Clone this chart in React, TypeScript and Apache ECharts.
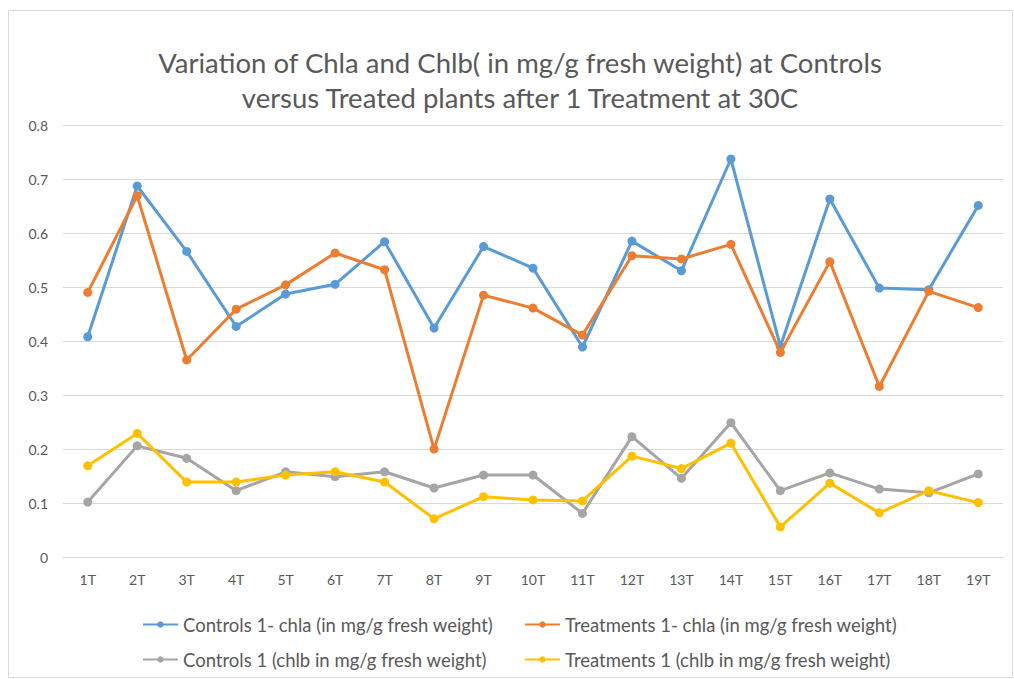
import React, { useEffect, useRef } from "react";
import * as echarts from "echarts";

const categories = ["1T","2T","3T","4T","5T","6T","7T","8T","9T","10T","11T","12T","13T","14T","15T","16T","17T","18T","19T"];
const controlsChla = [0.409,0.688,0.567,0.428,0.488,0.506,0.585,0.425,0.576,0.536,0.390,0.586,0.531,0.738,0.391,0.664,0.499,0.496,0.652];
const treatmentsChla = [0.491,0.670,0.366,0.460,0.505,0.564,0.533,0.201,0.486,0.462,0.412,0.559,0.553,0.580,0.380,0.548,0.317,0.493,0.463];
const controlsChlb = [0.103,0.207,0.184,0.124,0.159,0.150,0.159,0.129,0.153,0.153,0.082,0.224,0.147,0.250,0.124,0.157,0.127,0.120,0.155];
const treatmentsChlb = [0.170,0.230,0.140,0.140,0.153,0.159,0.140,0.072,0.113,0.107,0.105,0.188,0.165,0.212,0.057,0.138,0.083,0.124,0.102];
const seriesNames = [
  "Controls 1- chla (in mg/g fresh weight)",
  "Treatments 1- chla (in mg/g fresh weight)",
  "Controls 1 (chlb in mg/g fresh weight)",
  "Treatments 1 (chlb in mg/g fresh weight)",
];
const colors = ["#5B9BD5", "#ED7D31", "#A5A5A5", "#FFC000"];
const titleLines = [
  "Variation of Chla and Chlb( in mg/g fresh weight) at Controls",
  "versus Treated plants after 1 Treatment at 30C",
];

const FONT = "Lato, 'Liberation Sans', sans-serif";
const TXT = "#595959";

export default function App() {
  const ref = useRef<HTMLDivElement>(null);
  useEffect(() => {
    if (!ref.current) return;
    const chart = echarts.init(ref.current, undefined, { renderer: "svg" });
    const dataSets = [controlsChla, treatmentsChla, controlsChlb, treatmentsChlb];
    const legendPos = [
      { left: 142, top: 615 },
      { left: 524, top: 615 },
      { left: 142, top: 650 },
      { left: 524, top: 650 },
    ];
    chart.setOption({
      animation: false,
      backgroundColor: "#ffffff",
      textStyle: { fontFamily: FONT },
      graphic: [
        { type: "rect", shape: { x: 8.5, y: 10.5, width: 1004, height: 667 }, style: { fill: "none", stroke: "#d9d9d9", lineWidth: 1 }, silent: true },
        ...titleLines.map((t, i) => ({
          type: "text",
          x: 520,
          y: 62 + i * 35,
          silent: true,
          style: { text: t, fill: TXT, font: `27.5px ${FONT}`, fontSize: 27.5, fontFamily: FONT, textAlign: "center", textVerticalAlign: "middle" },
        })),
      ],
      legend: seriesNames.map((n, i) => ({
        data: [n],
        left: legendPos[i].left,
        top: legendPos[i].top,
        itemWidth: 35,
        itemHeight: 8,
        itemGap: 4,
        padding: 0,
        textStyle: { fontFamily: FONT, fontSize: 18.5, color: TXT },
      })),
      grid: { left: 63, right: 11, top: 125.5, bottom: 121.3 },
      xAxis: {
        type: "category",
        data: categories,
        boundaryGap: true,
        axisLine: { lineStyle: { color: "#d9d9d9" } },
        axisTick: { show: false },
        axisLabel: { color: TXT, fontSize: 14, fontFamily: FONT, margin: 15 },
      },
      yAxis: {
        type: "value",
        min: 0,
        max: 0.8,
        interval: 0.1,
        axisLine: { show: false },
        axisTick: { show: false },
        splitLine: { lineStyle: { color: "#d9d9d9", width: 1 } },
        axisLabel: { color: TXT, fontSize: 14, fontFamily: FONT, margin: 15, formatter: (v: number) => String(Math.round(v * 10) / 10) },
      },
      series: seriesNames.map((n, i) => ({
        name: n,
        type: "line",
        data: dataSets[i],
        color: colors[i],
        symbol: "circle",
        symbolSize: 9,
        lineStyle: { width: 3 },
        z: 2 + i,
      })),
    });
    return () => chart.dispose();
  }, []);
  return <div ref={ref} style={{ position: "absolute", left: 0, top: 0, width: 1014, height: 679 }} />;
}
